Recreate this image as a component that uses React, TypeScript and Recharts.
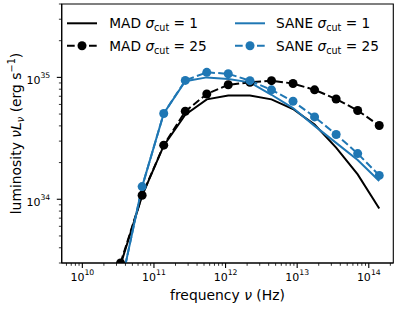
import React from "react";
import { LineChart, Line, XAxis, YAxis, ReferenceArea } from "recharts";

// frequency grid (Hz) and nu L_nu (erg/s) per model
const nu = [3.42e10, 6.84e10, 1.37e11, 2.74e11, 5.47e11, 1.09e12, 2.19e12, 4.38e12, 8.75e12, 1.75e13, 3.5e13, 7.0e13, 1.4e14];
const madCut1 = [2.9e33, 1.07e34, 2.75e34, 4.95e34, 6.6e34, 7.1e34, 7.1e34, 6.6e34, 5.5e34, 4.1e34, 2.65e34, 1.6e34, 8.4e33];
const madCut25 = [3.0e33, 1.08e34, 2.78e34, 5.27e34, 7.3e34, 8.7e34, 9.1e34, 9.4e34, 8.9e34, 7.9e34, 6.65e34, 5.35e34, 4.03e34];
const saneCut1 = [1.9e33, 1.27e34, 5.05e34, 9.3e34, 1.0e35, 9.7e34, 9.1e34, 7.2e34, 5.6e34, 4.0e34, 2.9e34, 2.1e34, 1.41e34];
const saneCut25 = [1.9e33, 1.27e34, 5.05e34, 9.45e34, 1.1e35, 1.07e35, 9.4e34, 7.9e34, 6.37e34, 4.74e34, 3.4e34, 2.37e34, 1.57e34];

const xMajor = [1e10, 1e11, 1e12, 1e13, 1e14];
const yMajor = [1e34, 1e35];
const xDomain: [number, number] = [5.15e9, 2.2e14];
const yDomain: [number, number] = [3e33, 4e35];

const BLUE = "#1f77b4";
const FONT = "DejaVu Sans";

const minorOf = (majors: number[], dom: [number, number]) => {
  const out: number[] = [];
  const first = majors[0] / 10;
  [first, ...majors].forEach((m) => {
    for (let k = 1; k <= 9; k++) {
      const v = m * k;
      if (v >= dom[0] * 0.999 && v <= dom[1] * 1.001) out.push(v);
    }
  });
  return out;
};
const xTicks = minorOf(xMajor, xDomain);
const yTicks = minorOf(yMajor, yDomain);
const isMajor = (v: number) => Math.abs(Math.log10(v) - Math.round(Math.log10(v))) < 1e-6;

const rows = nu.map((f, i) => ({
  nu: f,
  mad1: madCut1[i],
  mad25: madCut25[i],
  sane1: saneCut1[i],
  sane25: saneCut25[i],
}));

const XTick = (p: any) => {
  const v = p.payload.value;
  const major = isMajor(v);
  return (
    <g>
      <line x1={p.x} x2={p.x} y1={p.y} y2={p.y + (major ? 4.9 : 2.8)} stroke="#000" strokeWidth={major ? 1.1 : 0.8} />
      {major && (
        <text x={p.x} y={p.y + 17.5} textAnchor="middle" fontFamily={FONT} fontSize={11} fill="#000">
          10<tspan fontSize={7.7} dy={-5.6}>{Math.round(Math.log10(v))}</tspan>
        </text>
      )}
    </g>
  );
};

const YTick = (p: any) => {
  const v = p.payload.value;
  const major = isMajor(v);
  return (
    <g>
      <line x1={p.x} x2={p.x - (major ? 4.9 : 2.8)} y1={p.y} y2={p.y} stroke="#000" strokeWidth={major ? 1.1 : 0.8} />
      {major && (
        <text x={p.x - 11.5} y={p.y + 6.5} textAnchor="end" fontFamily={FONT} fontSize={11} fill="#000">
          10<tspan fontSize={7.7} dy={-5.6}>{Math.round(Math.log10(v))}</tspan>
        </text>
      )}
    </g>
  );
};

const SigmaLabel = ({ x, y, name, cut }: { x: number; y: number; name: string; cut: string }) => (
  <text x={x} y={y} fontFamily={FONT} fontSize={13.7} fill="#000">
    {name} <tspan fontStyle="italic">σ</tspan>
    <tspan fontSize={9.6} dy={3}>cut</tspan>
    <tspan dy={-3}> = {cut}</tspan>
  </text>
);

const Legend = () => (
  <svg width={399} height={60} style={{ position: "absolute", left: 0, top: 0 }}>
    <line x1={67} x2={97} y1={23.3} y2={23.3} stroke="#000" strokeWidth={2} />
    <SigmaLabel x={109.3} y={28.3} name="MAD" cut="1" />
    <line x1={67} x2={97} y1={45.7} y2={45.7} stroke="#000" strokeWidth={2} strokeDasharray="7.7 3.3" />
    <circle cx={82} cy={45.7} r={4.5} fill="#000" />
    <SigmaLabel x={109.3} y={50.7} name="MAD" cut="25" />
    <line x1={235} x2={265} y1={23.3} y2={23.3} stroke={BLUE} strokeWidth={2} />
    <SigmaLabel x={276} y={28.3} name="SANE" cut="1" />
    <line x1={235} x2={265} y1={45.7} y2={45.7} stroke={BLUE} strokeWidth={2} strokeDasharray="7.7 3.3" />
    <circle cx={250} cy={45.7} r={4.5} fill={BLUE} />
    <SigmaLabel x={276} y={50.7} name="SANE" cut="25" />
  </svg>
);

export default function App() {
  return (
    <div style={{ position: "relative", width: 399, height: 310, background: "#fff" }}>
      <style>{`body{margin:0}`}</style>
      <LineChart width={399} height={310} data={rows} margin={{ top: 4, right: 5.7, bottom: 0, left: 0 }}>
        <XAxis
          dataKey="nu"
          type="number"
          scale="log"
          domain={xDomain}
          allowDataOverflow
          ticks={xTicks}
          interval={0}
          tick={<XTick />}
          tickLine={false}
          tickSize={0}
          tickMargin={0}
          height={47}
          axisLine={{ stroke: "#000", strokeWidth: 1.1 }}
          label={{
            content: (lp: any) => {
              const vb = lp.viewBox;
              return (
                <text x={vb.x + vb.width / 2} y={vb.y + 37} textAnchor="middle" fontFamily={FONT} fontSize={13.9} fill="#000">
                  frequency <tspan fontStyle="italic">ν</tspan> (Hz)
                </text>
              );
            },
          }}
        />
        <YAxis
          type="number"
          scale="log"
          domain={yDomain}
          allowDataOverflow
          ticks={yTicks}
          interval={0}
          tick={<YTick />}
          tickLine={false}
          tickSize={0}
          tickMargin={0}
          width={61.7}
          axisLine={{ stroke: "#000", strokeWidth: 1.1 }}
          label={{
            content: (lp: any) => {
              const vb = lp.viewBox;
              const cx = 20.5;
              const cy = vb.y + vb.height / 2;
              return (
                <text x={cx} y={cy} transform={`rotate(-90 ${cx} ${cy})`} textAnchor="middle" fontFamily={FONT} fontSize={13.9} fill="#000">
                  luminosity <tspan fontStyle="italic">νL</tspan>
                  <tspan fontStyle="italic" fontSize={9.7} dy={3}>ν</tspan>
                  <tspan dy={-3}> (erg s</tspan>
                  <tspan fontSize={9.7} dy={-5.5}>−1</tspan>
                  <tspan dy={5.5}>)</tspan>
                </text>
              );
            },
          }}
        />
        <ReferenceArea x1={xDomain[0]} x2={xDomain[1]} y1={yDomain[0]} y2={yDomain[1]} fill="none" stroke="#000" strokeWidth={1.1} />
        <Line dataKey="mad1" stroke="#000" strokeWidth={2} dot={false} activeDot={false} isAnimationActive={false} />
        <Line dataKey="mad25" stroke="#000" strokeWidth={2} strokeDasharray="7.7 3.3" dot={{ r: 4.5, fill: "#000", stroke: "none" }} activeDot={false} isAnimationActive={false} />
        <Line dataKey="sane1" stroke={BLUE} strokeWidth={2} dot={false} activeDot={false} isAnimationActive={false} />
        <Line dataKey="sane25" stroke={BLUE} strokeWidth={2} strokeDasharray="7.7 3.3" dot={{ r: 4.5, fill: BLUE, stroke: "none" }} activeDot={false} isAnimationActive={false} />
      </LineChart>
      <Legend />
    </div>
  );
}
